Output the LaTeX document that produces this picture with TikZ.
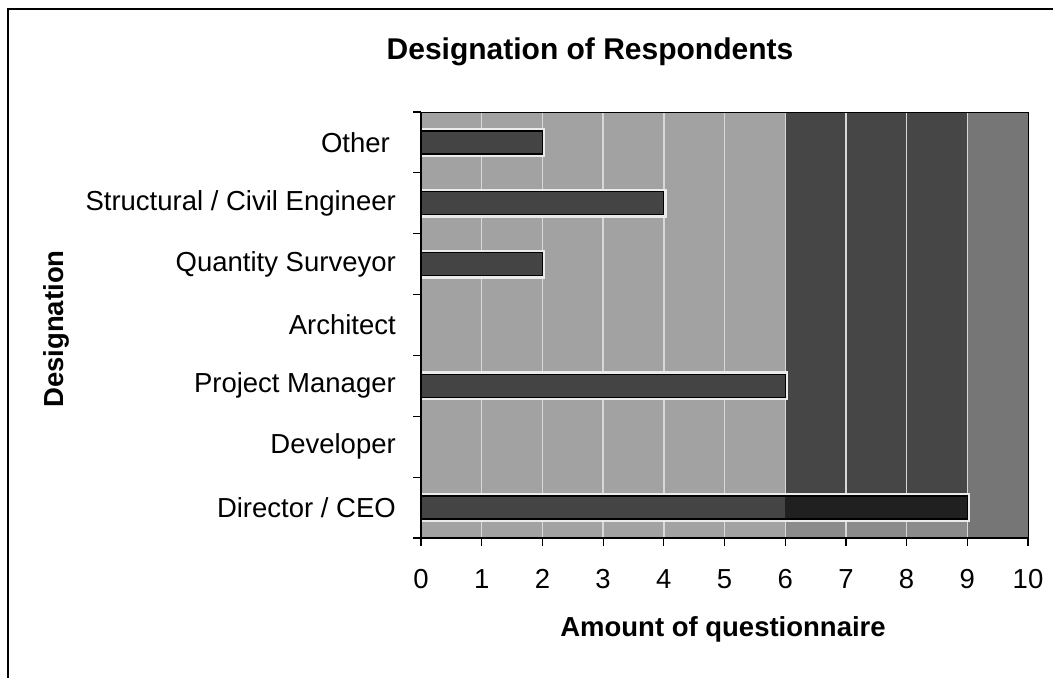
\documentclass[tikz,border=0pt]{standalone}
\usepackage{fontspec}
\setmainfont{Liberation Sans}
\definecolor{bglight}{HTML}{A2A2A2}
\definecolor{bgdark}{HTML}{464646}
\definecolor{bgmid}{HTML}{767676}
\definecolor{barfill}{HTML}{444444}
\definecolor{bardark}{HTML}{202020}
\definecolor{gridc}{HTML}{D8D8D8}
\begin{document}
\begin{tikzpicture}[x=1pt,y=-1pt,
  catlabel/.style={anchor=east,font=\fontsize{27.5}{29}\selectfont,inner sep=0pt},
  ticklabel/.style={anchor=center,font=\fontsize{27.5}{29}\selectfont,inner sep=0pt},
  axtitle/.style={font=\bfseries\fontsize{27.5}{29}\selectfont,inner sep=0pt},
  charttitle/.style={font=\bfseries\fontsize{30}{32}\selectfont,inner sep=0pt},
  gridline/.style={draw=gridc,line width=1.4pt},
  barbox/.style={draw=black,line width=1.3pt},
  halo/.style={fill=white!92!black},
  axisline/.style={draw=black,line width=1.4pt},
  tickmark/.style={draw=black,line width=1.2pt}]
\useasboundingbox (0,0) rectangle (1053,678);

% outer frame (left and top edges)
\draw[line width=2pt] (8,678) -- (8,9) -- (1053,9);

% plot geometry: value 0 at x=421, one unit = 60.7pt; rows of 60.857pt from y=112
\def\ux{60.7}
\def\ry{60.857}

% plot area background
\fill[bglight] (421,112) rectangle (1028,538);
\fill[bgdark] ({421+6*\ux},112) rectangle ({421+9*\ux},494);
\fill[bgmid] ({421+9*\ux},112) rectangle (1028,538);
\fill[bglight!75!bgdark] ({421+6*\ux},494) rectangle ({421+9*\ux},538);

% vertical gridlines
\foreach \i in {1,...,9}
  \draw[gridline] ({421+\i*\ux},112) -- ({421+\i*\ux},538);

% bars: value / row index (row 0 = top)
\foreach \v/\r in {2/0,4/1,2/2,6/4,9/6}{
  \fill[halo] (421,{112+(\r+0.5)*\ry-14.5}) rectangle ({421+\v*\ux+3},{112+(\r+0.5)*\ry+14.5});
  \fill[barfill] (421,{112+(\r+0.5)*\ry-11.5}) rectangle ({421+\v*\ux},{112+(\r+0.5)*\ry+11.5});
}
\fill[bardark] ({421+6*\ux},{112+6.5*\ry-11.5}) rectangle ({421+9*\ux},{112+6.5*\ry+11.5});
\foreach \v/\r in {2/0,4/1,2/2,6/4,9/6}
  \draw[barbox] (421,{112+(\r+0.5)*\ry-11.5}) rectangle ({421+\v*\ux},{112+(\r+0.5)*\ry+11.5});

% plot border and axes
\draw[draw=black,line width=1pt] (421,112) rectangle (1028,538);
\draw[axisline] (421,112) -- (421,538) -- (1028,538);

% category axis ticks
\foreach \r in {0,...,7}
  \draw[tickmark] (413,{112+\r*\ry}) -- (421,{112+\r*\ry});
% value axis ticks
\foreach \i in {0,...,10}
  \draw[tickmark] ({421+\i*\ux},538) -- ({421+\i*\ux},546);

% category labels
\node[catlabel] (lother) at (390,{112+0.5*\ry}) {Other};
\node[catlabel] (lstruct) at (396,{112+1.5*\ry}) {Structural / Civil Engineer};
\node[catlabel] (lqs) at (396,{112+2.5*\ry}) {Quantity Surveyor};
\node[catlabel] (larch) at (396,{112+3.5*\ry}) {Architect};
\node[catlabel] (lpm) at (396,{112+4.5*\ry}) {Project Manager};
\node[catlabel] (ldev) at (396,{112+5.5*\ry}) {Developer};
\node[catlabel] (ldir) at (396,{112+6.5*\ry}) {Director / CEO};

% value labels
\foreach \i in {0,...,10}
  \node[ticklabel] (v\i) at ({421+\i*\ux},579) {\i};

% titles
\node[charttitle] (title) at (590,52) {Designation of Respondents};
\node[axtitle] (xtitle) at (723,629) {Amount of questionnaire};
\node[axtitle,rotate=90] (ytitle) at (56,329) {Designation};
\end{tikzpicture}
\end{document}
